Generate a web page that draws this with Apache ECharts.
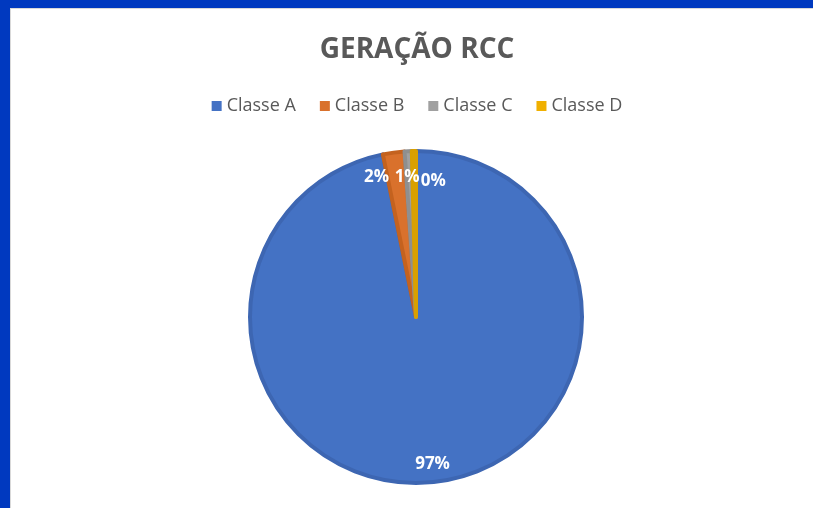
<!DOCTYPE html>
<html>
<head>
<meta charset="utf-8">
<script src="https://cdn.jsdelivr.net/npm/echarts@6/dist/echarts.min.js"></script>
<style>
    html, body { margin: 0; padding: 0; background: #fff; }
    #frame {
        position: absolute; left: 0; top: 0; width: 813px; height: 508px;
        background: #0039bf; overflow: hidden;
    }
    #inner {
        position: absolute; left: 10px; top: 8px; right: 0; bottom: 0;
        background: #fff; border-top: 1px solid #d9d9d9; border-left: 1px solid #d9d9d9;
    }
    #echart1 { position: absolute; left: 0; top: 0; width: 812px; height: 499px; }
</style>
</head>
<body>
<div id="frame"><div id="inner"><div id="echart1"></div></div></div>
<script>
var categories = ['Classe A', 'Classe B', 'Classe C', 'Classe D'];
var values = [968, 21, 7, 4];
var colors = ['#4472c4', '#d9712c', '#a0a0a0', '#f0b000'];
var borderColors = ['#3d66b2', '#c4621f', '#8f8f8f', '#d9a000'];
// small nudges so the crowded top labels sit apart, like the original
var labelDx = [2, -20, -2, 19];
var labelDy = [3, 4, 5, 9];

var myChart1 = echarts.init(document.getElementById('echart1'));

var pieData = categories.map(function (name, i) {
    return {
        name: name,
        value: values[i],
        itemStyle: { borderColor: borderColors[i] }
    };
});
var labelData = categories.map(function (name, i) {
    return { name: name, value: values[i] };
});

var option1 = {
    color: colors,
    title: {
        text: 'GERAÇÃO RCC',
        left: 'center',
        top: 22,
        textStyle: {
            color: '#595959',
            fontSize: 28,
            fontWeight: 'bold',
            fontFamily: 'Open Sans'
        }
    },
    legend: {
        top: 83,
        left: 'center',
        itemWidth: 10,
        itemHeight: 10,
        itemGap: 24,
        icon: 'rect',
        itemStyle: { borderWidth: 0 },
        textStyle: {
            color: '#595959',
            fontSize: 18,
            fontFamily: 'Open Sans'
        },
        data: categories
    },
    series: [
        {
            type: 'pie',
            radius: [0, 166],
            center: [405, 308],
            startAngle: 90,
            silent: true,
            label: { show: false },
            labelLine: { show: false },
            itemStyle: { borderWidth: 4 },
            data: pieData
        },
        {
            // label ring near the rim
            type: 'pie',
            radius: [118, 166],
            center: [405, 308],
            startAngle: 90,
            silent: true,
            itemStyle: { color: 'rgba(0,0,0,0)' },
            label: {
                show: true,
                position: 'inside',
                formatter: function (p) {
                    return Math.round(p.percent) + '%';
                },
                color: '#fff',
                fontSize: 17,
                fontWeight: 'bold',
                fontFamily: 'Open Sans'
            },
            labelLayout: function (p) {
                return { hideOverlap: false, dx: labelDx[p.dataIndex], dy: labelDy[p.dataIndex] };
            },
            labelLine: { show: false },
            data: labelData
        }
    ]
};

myChart1.setOption(option1);

window.addEventListener("resize", function () {
    myChart1.resize();
});
</script>
</body>
</html>
